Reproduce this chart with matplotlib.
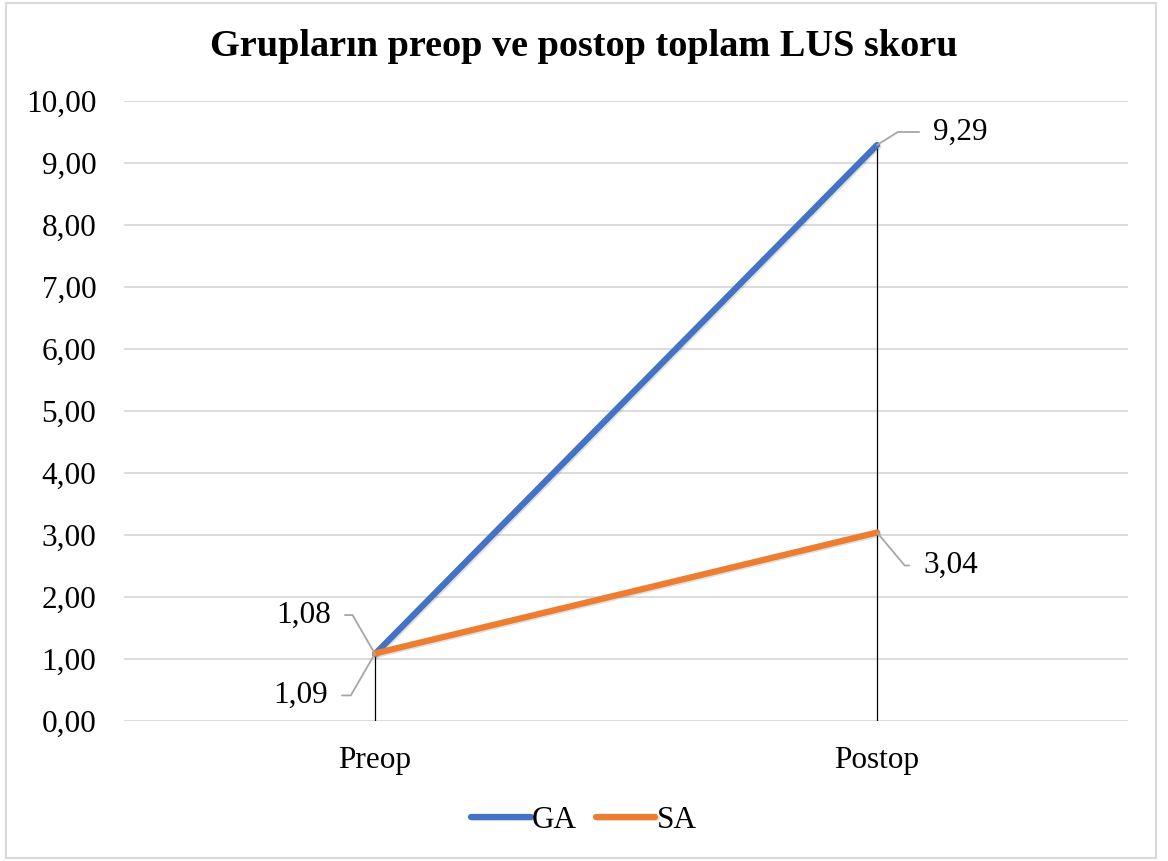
import matplotlib
matplotlib.use("Agg")
import matplotlib.pyplot as plt
import matplotlib.patheffects as pe
from matplotlib.patches import Rectangle

# data
categories = ["Preop", "Postop"]
ga_values = [1.08, 9.29]
sa_values = [1.09, 3.04]
series_names = ["GA", "SA"]
y_ticks = [0, 1, 2, 3, 4, 5, 6, 7, 8, 9, 10]

plt.rcParams['font.family'] = ['Liberation Serif', 'DejaVu Serif']
FS = 22.5

fig = plt.figure(figsize=(11.68, 8.61), dpi=100)
ax = fig.add_axes([0.1062, 0.1626, 0.8596, 0.7201])

x = [0.25, 0.75]
shadow = [pe.SimpleLineShadow(offset=(1, -1), alpha=0.12), pe.Normal()]
ax.plot(x, ga_values, color='#4472C4', lw=4.5, solid_capstyle='round',
        label=series_names[0], path_effects=shadow, zorder=4)
ax.plot(x, sa_values, color='#ED7D31', lw=4.5, solid_capstyle='round',
        label=series_names[1], path_effects=shadow, zorder=5)

# drop lines
for xi, g, s in zip(x, ga_values, sa_values):
    ax.plot([xi, xi], [0, max(g, s)], color='black', lw=0.9, zorder=3)

ax.set_xlim(0, 1)
ax.set_ylim(0, 10)
ax.set_yticks(y_ticks)
ax.set_yticklabels([f"{v:.2f}".replace('.', ',') for v in y_ticks], fontsize=FS)
ax.set_xticks(x)
ax.set_xticklabels(categories, fontsize=FS)
ax.tick_params(axis='y', length=0, pad=20)
ax.tick_params(axis='x', length=0, pad=18)
ax.grid(axis='y', color='#D9D9D9', lw=1.3)
ax.set_axisbelow(True)
for sp in ax.spines.values():
    sp.set_visible(False)

fig.text(0.5, 1 - 46 / 861, "Grupların preop ve postop toplam LUS skoru",
         ha='center', va='center', fontsize=27.5, fontweight='bold')

# data labels with leader lines
def label(xv, yv, txt, dx, dy, ha, angle):
    ax.annotate(txt, (xv, yv), xytext=(dx, dy), textcoords='offset pixels',
                ha=ha, va='center', fontsize=FS, zorder=6,
                arrowprops=dict(arrowstyle='-', color='#A6A6A6', lw=1.3,
                                shrinkA=8, shrinkB=0,
                                connectionstyle=f"angle,angleA=0,angleB={angle},rad=0"))

label(x[0], ga_values[0], "1,08", -44, 39, 'right', 120)
label(x[0], sa_values[0], "1,09", -47, -42, 'right', 60)
label(x[1], ga_values[1], "9,29", 56, 13, 'left', 32)
label(x[1], sa_values[1], "3,04", 46, -33, 'left', 130)

fig.legend(loc='center', bbox_to_anchor=(0.5, 1 - 820 / 861), ncol=2,
           frameon=False, fontsize=FS, handlelength=1.9, handletextpad=0.05,
           columnspacing=0.6)

fig.patches.append(Rectangle((6 / 1168, 3 / 861), 1150 / 1168, 855 / 861,
                             transform=fig.transFigure, fill=False,
                             edgecolor='#D9D9D9', lw=1.5))

fig.savefig("out.png", dpi=100)
